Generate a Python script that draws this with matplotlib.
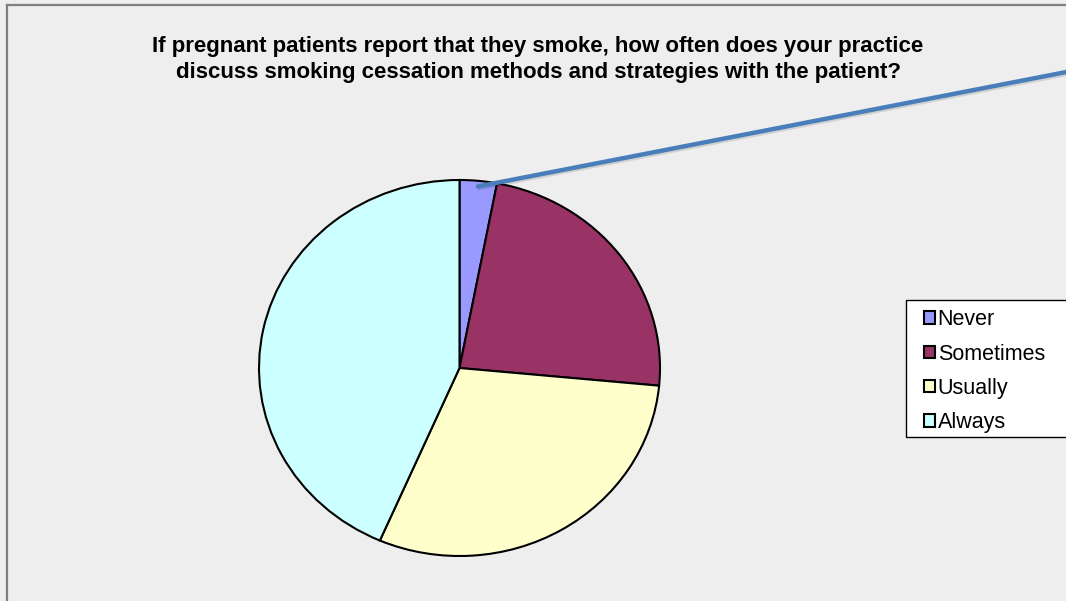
import numpy as np
import matplotlib
matplotlib.use("Agg")
import matplotlib.pyplot as plt
from matplotlib.patches import Rectangle
from matplotlib.lines import Line2D
import matplotlib.patheffects as pe

categories = ["Never", "Sometimes", "Usually", "Always"]
values = [3, 23.5, 30, 43.5]
colors = ["#9999ff", "#993366", "#ffffcc", "#ccffff"]
title = ("If pregnant patients report that they smoke, how often does your practice\n"
         "discuss smoking cessation methods and strategies with the patient?")

W, H = 1066, 601
fig = plt.figure(figsize=(W / 100, H / 100), dpi=100)
fig.patch.set_facecolor("#eeeeee")
plt.rcParams['font.family'] = ['Liberation Sans', 'DejaVu Sans']

def fx(x):
    return x / W

def fy(y):
    return 1 - y / H

# frame lines (top and left)
fig.add_artist(Line2D([fx(7), fx(7)], [fy(5), 0], color="#7f7f7f", lw=1.6, transform=fig.transFigure))
fig.add_artist(Line2D([fx(7), 1], [fy(5), fy(5)], color="#7f7f7f", lw=1.6, transform=fig.transFigure))

# title
fig.text(fx(538), fy(59.5), title, ha="center", va="center", fontsize=16,
         fontweight="bold", linespacing=1.27)

# pie axes
x0, x1, y0, y1 = 259, 660, 180, 556
ax = fig.add_axes([fx(x0), fy(y1), fx(x1 - x0), (y1 - y0) / H])
ax.set_facecolor("none")
wedges, _ = ax.pie(values, colors=colors, startangle=90, counterclock=False,
                   wedgeprops=dict(edgecolor="black", linewidth=1.5), radius=1)
ax.set_aspect("auto")
ax.set_xlim(-1, 1)
ax.set_ylim(-1, 1)
ax.axis("off")

# callout line from Never wedge
theta = np.deg2rad(90 - values[0] / sum(values) * 360 / 2)
r = 0.97
ax.annotate("", xy=(r * np.cos(theta), r * np.sin(theta)), xycoords="data",
            xytext=(1.01, fy(70)), textcoords="figure fraction",
            arrowprops=dict(arrowstyle="-", color="#4a7ebb", lw=3.2,
                            shrinkA=0, shrinkB=0,
                            path_effects=[pe.SimpleLineShadow(offset=(1.2, -1.2), alpha=0.12),
                                          pe.Normal()]))

# legend frame
fig.add_artist(Rectangle((fx(906), fy(437)), fx(1075 - 906), (437 - 300) / H,
                         facecolor="white", edgecolor="black", lw=1.0,
                         transform=fig.transFigure, zorder=2))
leg = fig.legend(wedges, categories, loc="upper left",
                 bbox_to_anchor=(fx(907), fy(292)), frameon=False,
                 fontsize=15.5, handlelength=0.5, handleheight=0.5,
                 handletextpad=0.12, labelspacing=0.62, borderpad=0.3)
leg.set_zorder(3)

fig.savefig("out.png", dpi=100, facecolor=fig.get_facecolor())
